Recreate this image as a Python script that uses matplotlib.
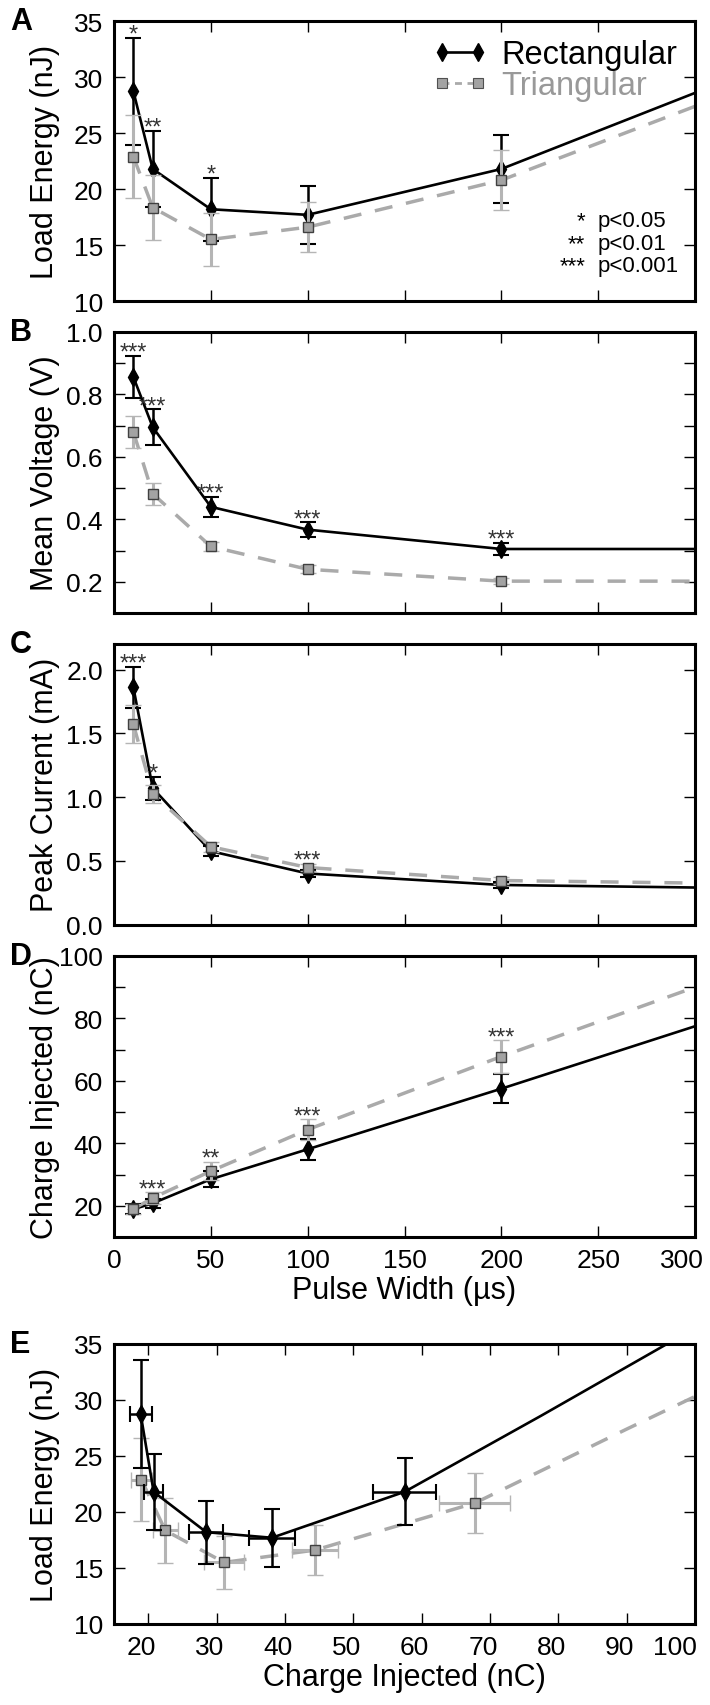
import matplotlib
matplotlib.use('Agg')
import matplotlib.pyplot as plt
import matplotlib.transforms as mtransforms
from matplotlib.lines import Line2D
from matplotlib.ticker import MultipleLocator

plt.rcParams['font.family'] = ['Liberation Sans', 'DejaVu Sans']
plt.rcParams['lines.scale_dashes'] = False

# pulse widths (us); the model lines continue through 300 and 500 us
pulse_width = [10, 20, 50, 100, 200]
pulse_width_ext = [300, 500]

# A - load energy (nJ)
rect_energy = [28.75, 21.8, 18.2, 17.7, 21.8]
rect_energy_err = [4.8, 3.4, 2.8, 2.6, 3.0]
rect_energy_ext = [28.6, 42.0]
tri_energy = [22.9, 18.35, 15.5, 16.6, 20.8]
tri_energy_err = [3.7, 2.9, 2.4, 2.25, 2.7]
tri_energy_ext = [27.4, 40.5]
sig_energy = ['*', '**', '*', '', '']

# B - mean voltage (V)
rect_voltage = [0.856, 0.695, 0.44, 0.367, 0.305]
rect_voltage_err = [0.068, 0.057, 0.032, 0.023, 0.019]
rect_voltage_ext = [0.305, 0.305]
tri_voltage = [0.68, 0.482, 0.313, 0.24, 0.202]
tri_voltage_err = [0.05, 0.035, 0.015, 0.013, 0.01]
tri_voltage_ext = [0.202, 0.2]
sig_voltage = ['***', '***', '***', '***', '***']

# C - peak current (mA)
rect_current = [1.86, 1.07, 0.575, 0.40, 0.31]
rect_current_err = [0.16, 0.09, 0.04, 0.03, 0.02]
rect_current_ext = [0.29, 0.28]
tri_current = [1.57, 1.025, 0.61, 0.447, 0.345]
tri_current_err = [0.15, 0.07, 0.04, 0.03, 0.03]
tri_current_ext = [0.325, 0.31]
sig_current = ['***', '*', '', '***', '']

# D - charge injected (nC)
rect_charge = [18.9, 20.8, 28.5, 38.1, 57.5]
rect_charge_err = [1.6, 1.4, 2.5, 3.4, 4.6]
rect_charge_ext = [77.5, 116.0]
tri_charge = [19.0, 22.5, 31.1, 44.4, 67.8]
tri_charge_err = [1.5, 1.8, 2.9, 3.3, 5.2]
tri_charge_ext = [90.0, 135.0]
sig_charge = ['', '***', '**', '***', '***']

BLACK = 'black'
GRAY_LINE = '#aaaaaa'
GRAY_ERR = '#b5b5b5'
GRAY_FACE = '#a3a3a3'
GRAY_TEXT = '#999999'

W, H = 710, 1706
fig = plt.figure(figsize=(W / 100, H / 100), dpi=100)


def add_ax(top, bottom):
    return fig.add_axes([114 / W, 1 - bottom / H, 581 / W, (bottom - top) / H])


def style(ax, letter):
    for s in ax.spines.values():
        s.set_linewidth(2.2)
    ax.tick_params(which='both', direction='in', length=8, width=1,
                   top=True, right=True, labelsize=19, pad=8)
    ax.yaxis.set_label_coords(-0.093, 0.5)
    ax.text(-0.179, 1.0, letter, transform=ax.transAxes, fontsize=22,
            fontweight='bold', ha='left', va='center')


def pulse_panel(ax, y_r, e_r, ext_r, y_t, e_t, ext_t, sig):
    ax.plot(pulse_width + pulse_width_ext, y_r + ext_r, color=BLACK, lw=1.9, zorder=2)
    ax.errorbar(pulse_width, y_r, yerr=e_r, fmt='d', color=BLACK, ms=9,
                ecolor=BLACK, elinewidth=1.8, capsize=5.5, capthick=1.5, zorder=3)
    ax.plot(pulse_width + pulse_width_ext, y_t + ext_t, color=GRAY_LINE, lw=2.5,
            dashes=(13, 10), zorder=2)
    ax.errorbar(pulse_width, y_t, yerr=e_t, fmt='s', mfc=GRAY_FACE, mec='#404040',
                mew=1, ms=7.5, ecolor=GRAY_ERR, elinewidth=2.2, capsize=5.5,
                capthick=1.5, zorder=4)
    for i, s in enumerate(sig):
        if s:
            top = max(y_r[i] + e_r[i], y_t[i] + e_t[i])
            ax.annotate(s, (pulse_width[i], top), xytext=(0, -2),
                        textcoords='offset points', ha='center', va='baseline',
                        fontsize=17, color='#333333', zorder=5)
    ax.set_xlim(0, 300)
    ax.set_xticks([0, 50, 100, 150, 200, 250, 300])


axA = add_ax(22.3, 302)
axB = add_ax(333, 614)
axC = add_ax(645, 925.5)
axD = add_ax(957, 1238)
axE = add_ax(1345, 1625)

pulse_panel(axA, rect_energy, rect_energy_err, rect_energy_ext,
            tri_energy, tri_energy_err, tri_energy_ext, sig_energy)
axA.set_ylim(10, 35)
axA.yaxis.set_major_locator(MultipleLocator(5))
axA.set_ylabel('Load Energy (nJ)', fontsize=22)

pulse_panel(axB, rect_voltage, rect_voltage_err, rect_voltage_ext,
            tri_voltage, tri_voltage_err, tri_voltage_ext, sig_voltage)
axB.set_ylim(0.1, 1.0)
axB.yaxis.set_major_locator(MultipleLocator(0.2))
axB.yaxis.set_minor_locator(MultipleLocator(0.1))
axB.set_ylabel('Mean Voltage (V)', fontsize=22)

pulse_panel(axC, rect_current, rect_current_err, rect_current_ext,
            tri_current, tri_current_err, tri_current_ext, sig_current)
axC.set_ylim(0, 2.2)
axC.yaxis.set_major_locator(MultipleLocator(0.5))
axC.set_ylabel('Peak Current (mA)', fontsize=22)

pulse_panel(axD, rect_charge, rect_charge_err, rect_charge_ext,
            tri_charge, tri_charge_err, tri_charge_ext, sig_charge)
axD.set_ylim(10, 100)
axD.yaxis.set_major_locator(MultipleLocator(20))
axD.yaxis.set_minor_locator(MultipleLocator(10))
axD.set_ylabel('Charge Injected (nC)', fontsize=22)
axD.set_xlabel('Pulse Width (\u00b5s)', fontsize=22, labelpad=2)

for ax, letter in zip([axA, axB, axC, axD, axE], 'ABCDE'):
    style(ax, letter)
for ax in [axA, axB, axC]:
    ax.tick_params(labelbottom=False)

# E - load energy vs charge injected
axE.plot(tri_charge + tri_charge_ext, tri_energy + tri_energy_ext, color=GRAY_LINE,
         lw=2.5, dashes=(13, 10), zorder=2)
axE.errorbar(tri_charge, tri_energy, xerr=tri_charge_err, yerr=tri_energy_err, fmt='s',
             mfc=GRAY_FACE, mec='#404040', mew=1, ms=7.5, ecolor=GRAY_ERR,
             elinewidth=2.2, capsize=5.5, capthick=1.5, zorder=3)
axE.plot(rect_charge + rect_charge_ext, rect_energy + rect_energy_ext, color=BLACK,
         lw=1.9, zorder=4)
axE.errorbar(rect_charge, rect_energy, xerr=rect_charge_err, yerr=rect_energy_err,
             fmt='d', color=BLACK, ms=9, ecolor=BLACK, elinewidth=1.8, capsize=5.5,
             capthick=1.5, zorder=5)
axE.set_xlim(15, 100)
axE.set_ylim(10, 35)
axE.set_xticks([20, 30, 40, 50, 60, 70, 80, 90, 100])
axE.yaxis.set_major_locator(MultipleLocator(5))
axE.set_ylabel('Load Energy (nJ)', fontsize=22)
axE.set_xlabel('Charge Injected (nC)', fontsize=22, labelpad=2)

# tick label nudges as in the original
for i, lbl in enumerate(axE.get_xticklabels()):
    dx = -20 if i == 8 else -7
    lbl.set_transform(lbl.get_transform() +
                      mtransforms.ScaledTranslation(dx / 100, 0, fig.dpi_scale_trans))
lblD = axD.get_xticklabels()[-1]
lblD.set_transform(lblD.get_transform() +
                   mtransforms.ScaledTranslation(-13 / 100, 0, fig.dpi_scale_trans))

# legend
h_rect = Line2D([], [], color=BLACK, lw=1.9, marker='d', ms=9)
h_tri = Line2D([], [], color=GRAY_LINE, lw=2.0, dashes=(5, 4), marker='s', ms=6.5,
               mfc=GRAY_FACE, mec='#505050', mew=0.8)
leg = axA.legend([h_rect, h_tri], ['Rectangular', 'Triangular'], loc='upper right',
                 frameon=False, fontsize=23.5, numpoints=2, handlelength=1.7,
                 handletextpad=0.4, labelspacing=0.0, borderaxespad=0.15)
leg.get_texts()[1].set_color(GRAY_TEXT)

# significance key
key_stars = ['*', '**', '***']
key_text = ['p<0.05', 'p<0.01', 'p<0.001']
key_y = [0.269, 0.186, 0.108]
for s, t, y in zip(key_stars, key_text, key_y):
    axA.text(0.811, y, s, transform=axA.transAxes, ha='right', va='baseline', fontsize=16)
    axA.text(0.833, y, t, transform=axA.transAxes, ha='left', va='baseline', fontsize=16)

fig.savefig('out.png', dpi=100)
